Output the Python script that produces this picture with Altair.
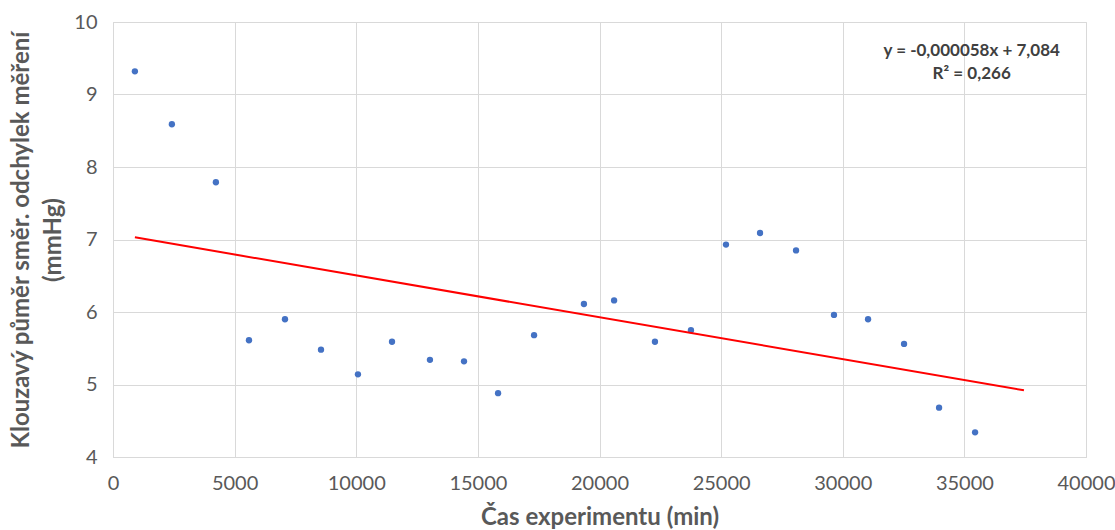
import altair as alt
import pandas as pd

time_min = [900, 2420, 4230, 5590, 7070, 8550, 10070, 11470, 13030, 14430, 15830, 17310,
            19360, 20600, 22280, 23760, 25200, 26600, 28080, 29640, 31040, 32520, 33960, 35440]
sd_avg = [9.32, 8.59, 7.79, 5.61, 5.90, 5.48, 5.14, 5.59, 5.34, 5.32, 4.88, 5.68,
          6.11, 6.16, 5.59, 5.75, 6.93, 7.09, 6.85, 5.96, 5.90, 5.56, 4.68, 4.34]
trend_x = [900, 37450]
trend_y = [7.03, 4.92]
eq_text = ["y = -0,000058x + 7,084", "R² = 0,266"]
x_ticks = [0, 5000, 10000, 15000, 20000, 25000, 30000, 35000, 40000]
y_ticks = [4, 5, 6, 7, 8, 9, 10]

df = pd.DataFrame({"t": time_min, "s": sd_avg})
df_trend = pd.DataFrame({"t": trend_x, "s": trend_y})
FONT = "Lato"

x = alt.X("t:Q", scale=alt.Scale(domain=[0, 40000], nice=False),
          axis=alt.Axis(values=x_ticks, format="d", title="Čas experimentu (min)",
                        labelFontSize=20, titleFontSize=24, titleFontWeight="bold",
                        labelPadding=16, titlePadding=12, labelColor="#595959",
                        titleColor="#595959", tickSize=0, gridColor="#d9d9d9",
                        domainColor="#d9d9d9", labelFont=FONT, titleFont=FONT,
                        labelFlush=False))
y = alt.Y("s:Q", scale=alt.Scale(domain=[4, 10], nice=False, zero=False),
          axis=alt.Axis(values=y_ticks, format="d",
                        title=["Klouzavý půměr směr. odchylek měření", "(mmHg)"],
                        labelFontSize=20, titleFontSize=24, titleFontWeight="bold",
                        labelPadding=16, titlePadding=8, titleLineHeight=32,
                        labelColor="#595959", titleColor="#595959", tickSize=0,
                        gridColor="#d9d9d9", domainColor="#d9d9d9",
                        labelFont=FONT, titleFont=FONT, labelFlush=False))

points = alt.Chart(df).mark_circle(size=40, color="#4472C4", opacity=1).encode(x=x, y=y)

trend = alt.Chart(df_trend).mark_line(color="#FF0000", strokeWidth=2).encode(x="t:Q", y="s:Q")

eq = alt.Chart(pd.DataFrame({"t": [35300], "s": [9.6], "txt": [eq_text]})).mark_text(
    font=FONT, fontSize=17, fontWeight="bold", color="#404040", align="center",
    baseline="middle", lineHeight=23).encode(x="t:Q", y="s:Q", text="txt")

chart = alt.layer(points, trend, eq).properties(
    width=973, height=435,
    padding={"left": 113, "top": 22, "right": 29, "bottom": 73},
    autosize=alt.AutoSizeParams(type="none"),
).configure_view(stroke=None).configure(background="white")

chart.save("out.html", embed_options={"renderer": "svg", "actions": False})
